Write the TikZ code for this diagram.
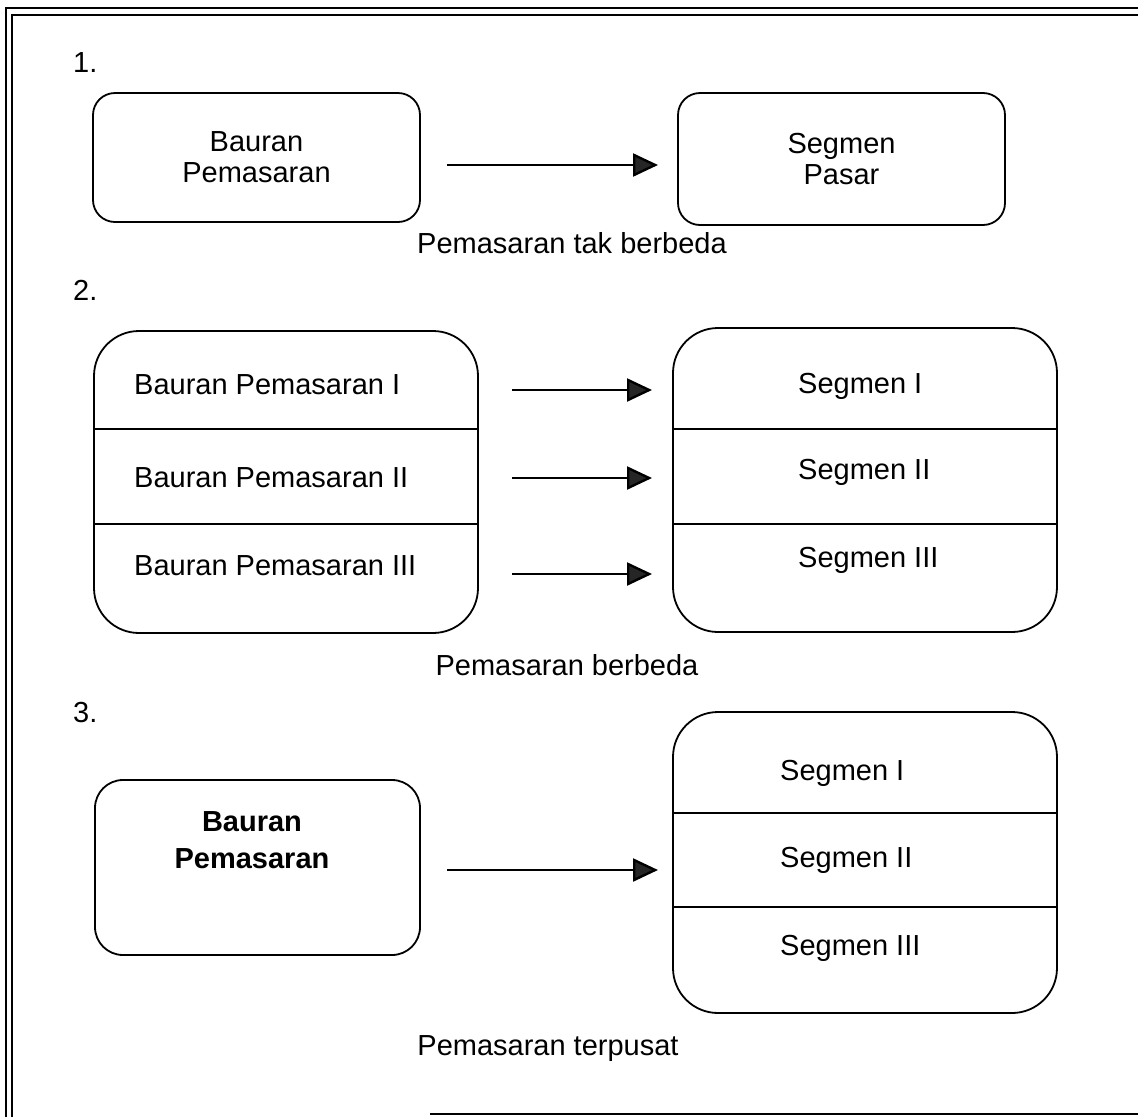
\documentclass[tikz,border=0pt]{standalone}
\usepackage{fontspec}
\setmainfont{Liberation Sans}
\usetikzlibrary{arrows.meta}
\begin{document}
\begin{tikzpicture}[x=1pt,y=-1pt,
  font=\fontsize{29}{31}\selectfont,
  box/.style={draw, line width=1.8pt, inner sep=0pt, outer sep=0pt, align=center},
  smallbox/.style={box, rounded corners=22pt},
  bigbox/.style={box, rounded corners=45pt},
  divider/.style={line width=1.8pt},
  arr/.style={line width=2.4pt, -{Triangle[length=25pt,width=23pt,fill=black!85]}},
  frame/.style={line width=2pt},
  lbl/.style={anchor=base west, inner sep=0pt},
  caption/.style={anchor=base, inner sep=0pt}
]
\useasboundingbox (0,0) rectangle (1138,1117);
\clip (0,0) rectangle (1138,1117);

% page frame (double rule on the left and top)
\draw[frame] (6,1117) -- (6,8) -- (1140,8);
\draw[frame, line width=2.6pt] (12,1117) -- (12,15) -- (1140,15);
\draw[frame] (430,1114) -- (1140,1114);

% ---------- 1. undifferentiated marketing ----------
\node[lbl] (n1) at (73,72) {1.};
\node[smallbox, minimum width=327pt, minimum height=129pt] (a1) at (256.5,157.5) {Bauran\\Pemasaran};
\node[smallbox, minimum width=327pt, minimum height=132pt] (b1) at (841.5,159) {Segmen\\Pasar};
\coordinate (r1s) at (447,165);
\coordinate (r1e) at (658,165);
\draw[arr] (r1s) -- (r1e);
\node[caption] (c1) at (572,253) {Pemasaran tak berbeda};

% ---------- 2. differentiated marketing ----------
\node[lbl] (n2) at (73,300) {2.};
\node[bigbox, minimum width=384pt, minimum height=302pt] (a2) at (286,482) {};
\node[bigbox, minimum width=384pt, minimum height=304pt] (b2) at (865,480) {};
\coordinate (ya) at (0,429);
\coordinate (yb) at (0,524);
\draw[divider] (a2.west |- ya) -- (a2.east |- ya);
\draw[divider] (a2.west |- yb) -- (a2.east |- yb);
\draw[divider] (b2.west |- ya) -- (b2.east |- ya);
\draw[divider] (b2.west |- yb) -- (b2.east |- yb);

\node[lbl] (a2i)   at (134,394) {Bauran Pemasaran I};
\node[lbl] (a2ii)  at (134,487) {Bauran Pemasaran II};
\node[lbl] (a2iii) at (134,575) {Bauran Pemasaran III};
\node[lbl] (b2i)   at (798,393) {Segmen I};
\node[lbl] (b2ii)  at (798,479) {Segmen II};
\node[lbl] (b2iii) at (798,567) {Segmen III};

\coordinate (r2s) at (512,390);  \coordinate (r2e) at (652,390);
\coordinate (r3s) at (512,478);  \coordinate (r3e) at (652,478);
\coordinate (r4s) at (512,574);  \coordinate (r4e) at (652,574);
\draw[arr] (r2s) -- (r2e);
\draw[arr] (r3s) -- (r3e);
\draw[arr] (r4s) -- (r4e);
\node[caption] (c2) at (567,675) {Pemasaran berbeda};

% ---------- 3. concentrated marketing ----------
\node[lbl] (n3) at (73,722) {3.};
\node[box, rounded corners=28pt, minimum width=325pt, minimum height=175pt] (a3) at (257.5,867.5) {};
\node[align=center, inner sep=0pt, font=\fontsize{29}{37}\selectfont\bfseries] (a3t) at (252,840) {Bauran\\Pemasaran};
\node[bigbox, minimum width=384pt, minimum height=301pt] (b3) at (865,862.5) {};
\coordinate (yc) at (0,813);
\coordinate (yd) at (0,907);
\draw[divider] (b3.west |- yc) -- (b3.east |- yc);
\draw[divider] (b3.west |- yd) -- (b3.east |- yd);
\node[lbl] (b3i)   at (780,780) {Segmen I};
\node[lbl] (b3ii)  at (780,867) {Segmen II};
\node[lbl] (b3iii) at (780,955) {Segmen III};
\coordinate (r5s) at (447,870);
\coordinate (r5e) at (658,870);
\draw[arr] (r5s) -- (r5e);
\node[caption] (c3) at (548,1055) {Pemasaran terpusat};
\end{tikzpicture}
\end{document}
